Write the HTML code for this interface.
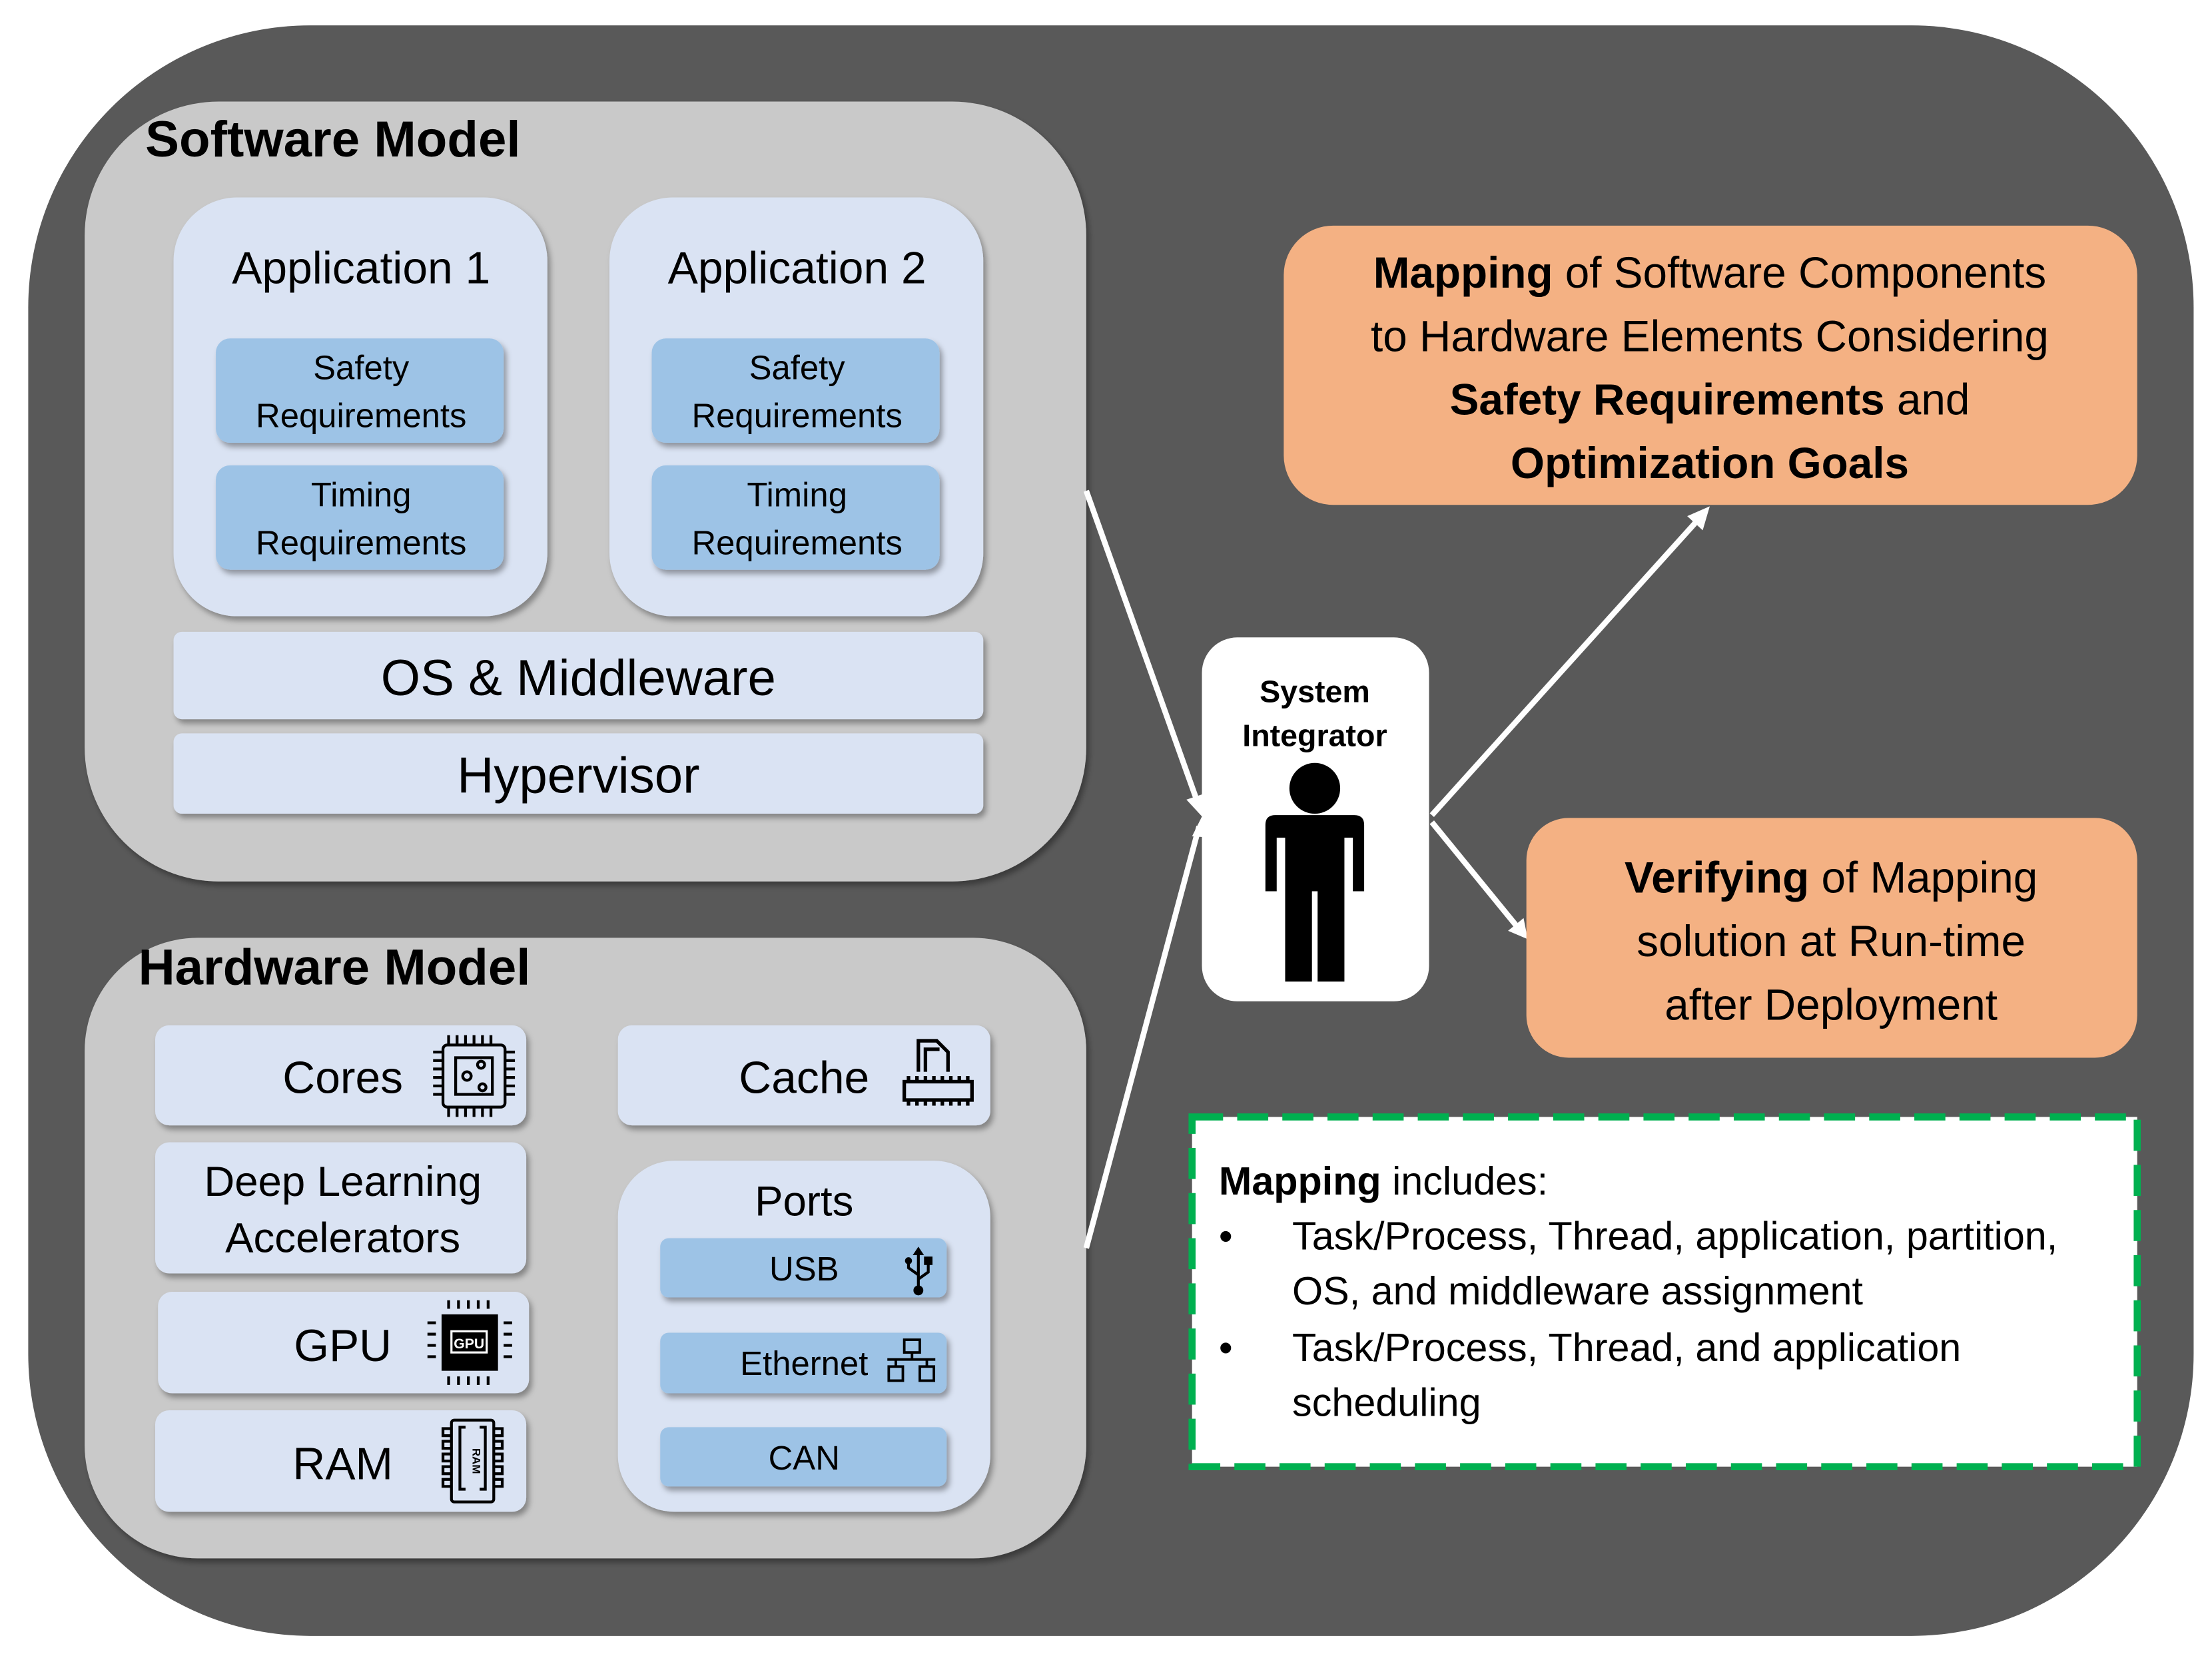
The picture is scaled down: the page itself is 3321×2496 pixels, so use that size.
<!DOCTYPE html>
<html><head><meta charset="utf-8"><style>
html,body{margin:0;padding:0;background:#fff;}
svg{display:block;}
text{font-family:"Liberation Sans","DejaVu Sans",sans-serif;fill:#000;}
</style></head><body>
<svg width="3321" height="2496" viewBox="0 0 1568 1178.5" xmlns="http://www.w3.org/2000/svg">
<defs>
<filter id="sh" x="-10%" y="-10%" width="130%" height="130%"><feDropShadow dx="2" dy="3" stdDeviation="2" flood-color="#000" flood-opacity="0.35"/></filter>
</defs>
<rect x="20" y="18" width="1535" height="1142" rx="200" fill="#595959"/>

<!-- Software model -->
<rect x="60" y="72" width="710" height="553" rx="95" fill="#c9c9c9" filter="url(#sh)"/>
<text x="103" y="111" font-size="36" font-weight="bold">Software Model</text>
<g font-size="32" text-anchor="middle">
<rect x="123" y="140" width="265" height="297" rx="45" fill="#dae3f3" filter="url(#sh)"/>
<text x="256" y="201">Application 1</text>
<rect x="432" y="140" width="265" height="297" rx="45" fill="#dae3f3" filter="url(#sh)"/>
<text x="565" y="201">Application 2</text>
</g>
<g font-size="24" text-anchor="middle">
<rect x="153" y="240" width="204" height="74" rx="10" fill="#9dc3e6" filter="url(#sh)"/>
<text x="256" y="269">Safety</text><text x="256" y="303">Requirements</text>
<rect x="153" y="330" width="204" height="74" rx="10" fill="#9dc3e6" filter="url(#sh)"/>
<text x="256" y="359">Timing</text><text x="256" y="393">Requirements</text>
<rect x="462" y="240" width="204" height="74" rx="10" fill="#9dc3e6" filter="url(#sh)"/>
<text x="565" y="269">Safety</text><text x="565" y="303">Requirements</text>
<rect x="462" y="330" width="204" height="74" rx="10" fill="#9dc3e6" filter="url(#sh)"/>
<text x="565" y="359">Timing</text><text x="565" y="393">Requirements</text>
</g>
<rect x="123" y="448" width="574" height="62" rx="6" fill="#dae3f3" filter="url(#sh)"/>
<text x="410" y="493" font-size="36" text-anchor="middle">OS &amp; Middleware</text>
<rect x="123" y="520" width="574" height="57" rx="6" fill="#dae3f3" filter="url(#sh)"/>
<text x="410" y="562" font-size="36" text-anchor="middle">Hypervisor</text>

<!-- Hardware model -->
<rect x="60" y="665" width="710" height="440" rx="80" fill="#c9c9c9" filter="url(#sh)"/>
<text x="98" y="698" font-size="36" font-weight="bold">Hardware Model</text>
<rect x="110" y="727" width="263" height="71" rx="10" fill="#dae3f3" filter="url(#sh)"/>
<text x="243" y="775" font-size="32" text-anchor="middle">Cores</text>
<g stroke="#000" stroke-width="2" fill="none">
<rect x="314" y="741" width="44" height="44" rx="3"/><rect x="323" y="750" width="26" height="26"/>
<circle cx="331" cy="763" r="3"/><circle cx="341" cy="755" r="2.5"/><circle cx="342" cy="771" r="2.5"/>
<path d="M318,741v-7M324,741v-7M330,741v-7M336,741v-7M342,741v-7M348,741v-7M318,785v7M324,785v7M330,785v7M336,785v7M342,785v7M348,785v7M314,746h-7M314,752h-7M314,758h-7M314,764h-7M314,770h-7M314,776h-7M358,746h7M358,752h7M358,758h7M358,764h7M358,770h7M358,776h7"/>
</g>
<rect x="438" y="727" width="264" height="71" rx="10" fill="#dae3f3" filter="url(#sh)"/>
<text x="570" y="775" font-size="32" text-anchor="middle">Cache</text>
<g stroke="#000" stroke-width="2.5" fill="none">
<path d="M651,760v-22h13l8,8v14M656,760v-16h10"/>
<rect x="641" y="767" width="48" height="13"/>
<path d="M644,767v-4M650,767v-4M656,767v-4M662,767v-4M668,767v-4M674,767v-4M680,767v-4M686,767v-4M644,780v4M650,780v4M656,780v4M662,780v4M668,780v4M674,780v4M680,780v4M686,780v4"/>
</g>
<rect x="110" y="810" width="263" height="93" rx="10" fill="#dae3f3" filter="url(#sh)"/>
<text x="243" y="848" font-size="30" text-anchor="middle">Deep Learning</text>
<text x="243" y="888" font-size="30" text-anchor="middle">Accelerators</text>
<rect x="112" y="916" width="263" height="72" rx="10" fill="#dae3f3" filter="url(#sh)"/>
<text x="243" y="965" font-size="32" text-anchor="middle">GPU</text>
<rect x="313" y="932" width="40" height="40" fill="#000"/>
<rect x="320" y="944" width="25" height="15" fill="none" stroke="#fff" stroke-width="1.5"/>
<text x="332.5" y="956" font-size="10" font-weight="bold" text-anchor="middle" style="fill:#fff">GPU</text>
<g stroke="#000" stroke-width="2"><path d="M318,928v-6M325,928v-6M332,928v-6M339,928v-6M346,928v-6M318,976v6M325,976v6M332,976v6M339,976v6M346,976v6M309,938h-6M309,946h-6M309,954h-6M309,962h-6M357,938h6M357,946h6M357,954h6M357,962h6"/></g>
<rect x="110" y="1000" width="263" height="72" rx="10" fill="#dae3f3" filter="url(#sh)"/>
<text x="243" y="1049" font-size="32" text-anchor="middle">RAM</text>
<g stroke="#000" stroke-width="2" fill="none">
<rect x="320" y="1007" width="30" height="58" rx="2"/><path d="M330,1012h-4v44h4M340,1012h4v44h-4"/>
<path d="M320,1013h-6v5h6M320,1022h-6v5h6M320,1031h-6v5h6M320,1040h-6v5h6M320,1049h-6v5h6M350,1013h6v5h-6M350,1022h6v5h-6M350,1031h6v5h-6M350,1040h6v5h-6M350,1049h6v5h-6"/>
</g>
<text x="335" y="1036" font-size="8" font-weight="bold" text-anchor="middle" transform="rotate(90 335 1036)">RAM</text>

<rect x="438" y="823" width="264" height="249" rx="40" fill="#dae3f3" filter="url(#sh)"/>
<text x="570" y="862" font-size="30" text-anchor="middle">Ports</text>
<rect x="468" y="878" width="203" height="42" rx="6" fill="#9dc3e6" filter="url(#sh)"/>
<text x="570" y="908" font-size="24" text-anchor="middle">USB</text>
<g stroke="#000" stroke-width="2" fill="none"><path d="M651,888v28M651,904l-7,-5v-4M651,907l7,-5v-6"/></g>
<circle cx="651" cy="915" r="3.5"/><circle cx="644" cy="894" r="2.5"/><rect x="655" y="891" width="6" height="6"/><path d="M647,890l4,-6l4,6z"/>
<rect x="468" y="945" width="203" height="43" rx="6" fill="#9dc3e6" filter="url(#sh)"/>
<text x="570" y="975" font-size="24" text-anchor="middle">Ethernet</text>
<g stroke="#000" stroke-width="1.8" fill="none"><rect x="641" y="950" width="11" height="9"/><path d="M646.5,959v5M629,964h34M635,964v5M657,964v5"/><rect x="630" y="969" width="10" height="10"/><rect x="652" y="969" width="10" height="10"/></g>
<rect x="468" y="1012" width="203" height="42" rx="6" fill="#9dc3e6" filter="url(#sh)"/>
<text x="570" y="1042" font-size="24" text-anchor="middle">CAN</text>

<!-- arrows -->
<g stroke="#fff" stroke-width="4" fill="none">
<line x1="770" y1="348" x2="850" y2="572"/>
<line x1="770" y1="885" x2="850" y2="586"/>
<line x1="1015" y1="578" x2="1206" y2="366"/>
<line x1="1015" y1="583" x2="1077" y2="659"/>
</g>
<g fill="#fff">
<path d="M853,580 L841,567 L856,562 Z"/>
<path d="M853,577 L845,593 L860,594 Z"/>
<path d="M1212,359 L1196,366 L1207,376 Z"/>
<path d="M1083,666 L1069,660 L1080,651 Z"/>
</g>

<!-- System integrator -->
<rect x="852" y="452" width="161" height="258" rx="25" fill="#fff"/>
<text x="932" y="498" font-size="22" font-weight="bold" text-anchor="middle">System</text>
<text x="932" y="529" font-size="22" font-weight="bold" text-anchor="middle">Integrator</text>
<circle cx="932" cy="559" r="18"/>
<path d="M904,578 H960 Q967,578 967,585 V632 H959 V594 H953 V696 H934 V632 H930 V696 H911 V594 H905 V632 H897 V585 Q897,578 904,578 Z"/>

<!-- orange boxes -->
<rect x="910" y="160" width="605" height="198" rx="35" fill="#f4b183"/>
<g font-size="31" text-anchor="middle">
<text x="1212" y="204"><tspan font-weight="bold">Mapping</tspan> of Software Components</text>
<text x="1212" y="249">to Hardware Elements Considering</text>
<text x="1212" y="294"><tspan font-weight="bold">Safety Requirements</tspan> and</text>
<text x="1212" y="339" font-weight="bold">Optimization Goals</text>
</g>
<rect x="1082" y="580" width="433" height="170" rx="30" fill="#f4b183"/>
<g font-size="31" text-anchor="middle">
<text x="1298" y="633"><tspan font-weight="bold">Verifying</tspan> of Mapping</text>
<text x="1298" y="678">solution at Run-time</text>
<text x="1298" y="723">after Deployment</text>
</g>

<!-- dashed box -->
<rect x="845" y="792" width="670" height="248" fill="#fff" stroke="#00b050" stroke-width="5" stroke-dasharray="22,10"/>
<g font-size="28">
<text x="864" y="847"><tspan font-weight="bold">Mapping</tspan>  includes:</text>
<text x="864" y="886">•</text><text x="916" y="886">Task/Process, Thread, application, partition,</text>
<text x="916" y="925">OS, and middleware assignment</text>
<text x="864" y="965">•</text><text x="916" y="965">Task/Process, Thread, and application</text>
<text x="916" y="1004">scheduling</text>
</g>
</svg>
</body></html>
